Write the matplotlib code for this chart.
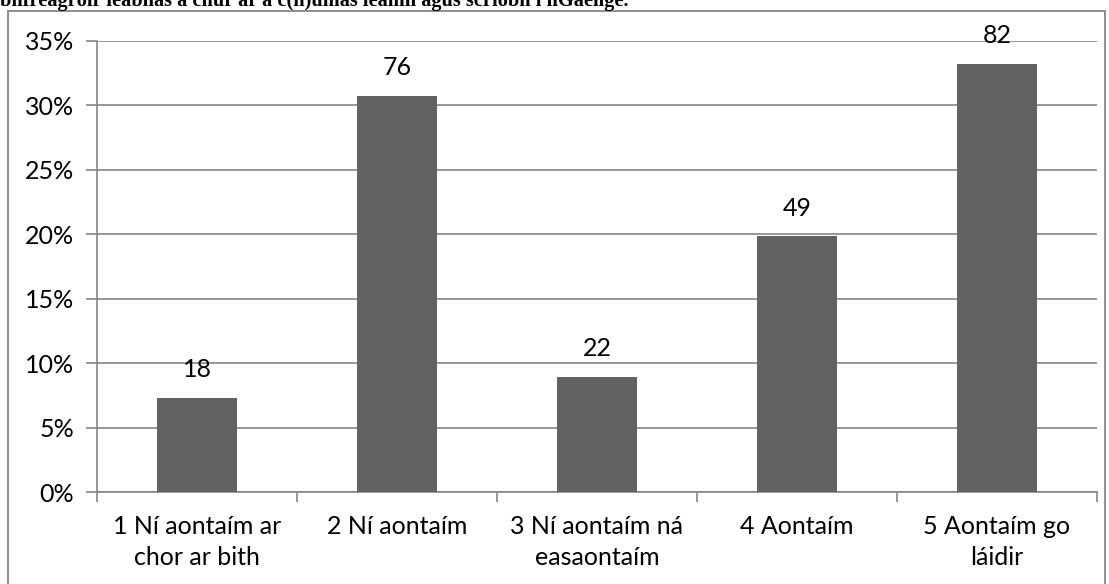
import matplotlib
matplotlib.use("Agg")
import matplotlib.pyplot as plt
from matplotlib.patches import Rectangle
from matplotlib.ticker import FuncFormatter, FixedLocator

categories = ["1 Ní aontaím ar\nchor ar bith", "2 Ní aontaím",
              "3 Ní aontaím ná\neasaontaím", "4 Aontaím", "5 Aontaím go\nláidir"]
counts = [18, 76, 22, 49, 82]
title_text = "bhfreagróir leabhas a chur ar a c(h)umas léamh agus scríobh i nGaeilge."

total = sum(counts)
percents = [c / total * 100 for c in counts]

W, H = 1109, 584
fig = plt.figure(figsize=(W / 100, H / 100), dpi=100)
grid_c = "#868686"
bar_c = "#626262"
font = "Lato"
fs = 18

# outer chart border
fig.patches.append(Rectangle((8 / W, -0.1), (1105 - 8) / W, 1 - 11 / H + 0.1,
                             transform=fig.transFigure, fill=False,
                             edgecolor=grid_c, linewidth=1.3))

fig.text(0.5 / W, 1 - 6 / H, title_text, family="Liberation Serif",
         fontweight="bold", fontsize=14.7, ha="left", va="baseline")

ax = fig.add_axes([97 / W, 1 - 492 / H, (1097 - 97) / W, (492 - 41) / H])
x = list(range(len(categories)))
bars = ax.bar(x, percents, width=0.4, color=bar_c, zorder=3)
for xi, p, c in zip(x, percents, counts):
    ax.annotate(str(c), (xi, p), xytext=(0, 15), textcoords="offset points",
                ha="center", va="baseline", fontsize=fs, family=font)

ax.set_xlim(-0.5, len(categories) - 0.5)
ax.set_ylim(0, 35)
ax.set_yticks(range(0, 36, 5))
ax.yaxis.set_major_formatter(FuncFormatter(lambda v, _: f"{int(v)}%"))
ax.grid(axis="y", color=grid_c, linewidth=1.2, zorder=0)
ax.set_axisbelow(True)

ax.set_xticks(x)
ax.set_xticklabels(categories, fontsize=fs, family=font, linespacing=1.45)
ax.xaxis.set_minor_locator(FixedLocator([i - 0.5 for i in range(len(categories) + 1)]))
ax.tick_params(axis="x", which="major", length=0, pad=16.5)
ax.tick_params(axis="x", which="minor", length=7, color=grid_c, width=1.2)
ax.tick_params(axis="y", length=8, color=grid_c, width=1.2, pad=8.5, labelsize=fs)
for lab in ax.get_yticklabels():
    lab.set_family(font)

for s in ["top", "right"]:
    ax.spines[s].set_visible(False)
for s in ["left", "bottom"]:
    ax.spines[s].set_color(grid_c)
    ax.spines[s].set_linewidth(1.2)

fig.savefig("out.png", dpi=100)
